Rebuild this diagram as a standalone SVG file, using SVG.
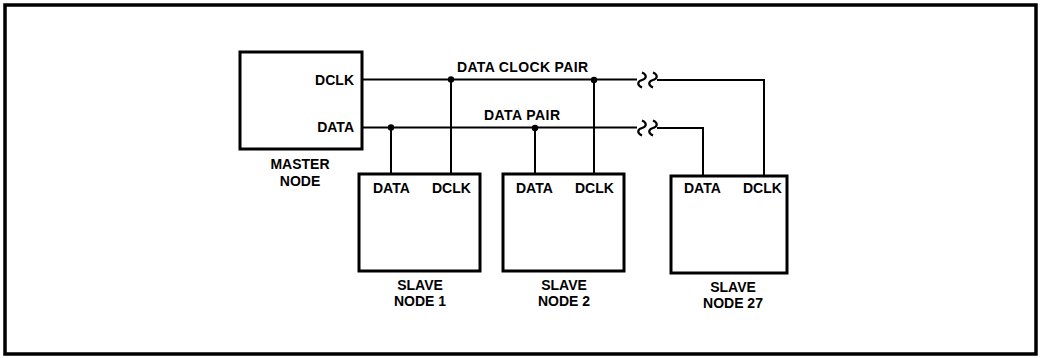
<svg xmlns="http://www.w3.org/2000/svg" width="1040" height="358" viewBox="0 0 1040 358">
<style>
.box{fill:#fff;stroke:#000;stroke-width:3}
.w{fill:none;stroke:#000;stroke-width:2}
.brk{fill:none;stroke:#000;stroke-width:2.2}
.dot{fill:#000}
text{font-family:"Liberation Sans",Arial,sans-serif;font-weight:bold;font-size:14px;fill:#000}
.m{text-anchor:middle}
.e{text-anchor:end}
</style>
<rect x="0" y="0" width="1040" height="358" fill="#fff"/>
<rect x="5" y="5" width="1031" height="349" fill="none" stroke="#000" stroke-width="3.5"/>
<g id="connectors">
<path class="w" d="M362,79.5 H637 M657,80 H764 V176"/>
<path class="w" d="M362,127.5 H637 M657,128 H703 V176"/>
<path class="w" d="M391,127.5 V174 M451,79.5 V174 M535,128 V174 M594,80 V174"/>
<path class="brk" d="M642,72.5 c5,2 5,6 0,7.5 c-5,1.5 -5,5.5 0,7.5 M653,72.5 c5,2 5,6 0,7.5 c-5,1.5 -5,5.5 0,7.5"/>
<path class="brk" d="M642,120.5 c5,2 5,6 0,7.5 c-5,1.5 -5,5.5 0,7.5 M653,120.5 c5,2 5,6 0,7.5 c-5,1.5 -5,5.5 0,7.5"/>
<circle class="dot" cx="391" cy="127.5" r="3.2"/>
<circle class="dot" cx="451" cy="79.5" r="3.2"/>
<circle class="dot" cx="535" cy="128" r="3.2"/>
<circle class="dot" cx="594" cy="80" r="3.2"/>
<text x="457" y="72" textLength="131">DATA CLOCK PAIR</text>
<text x="484" y="120" textLength="76">DATA PAIR</text>
</g>
<g id="master">
<rect class="box" x="240" y="52" width="122" height="97"/>
<text class="e" x="354" y="85">DCLK</text>
<text class="e" x="354" y="132">DATA</text>
<text class="m" x="300" y="169">MASTER</text>
<text class="m" x="300" y="186">NODE</text>
</g>
<g id="slave1">
<rect class="box" x="359" y="174" width="121" height="97"/>
<text x="373" y="193">DATA</text>
<text x="432" y="193">DCLK</text>
<text class="m" x="420" y="290">SLAVE</text>
<text class="m" x="420" y="306">NODE 1</text>
</g>
<g id="slave2">
<rect class="box" x="503" y="174" width="121" height="97"/>
<text x="516" y="193">DATA</text>
<text x="575" y="193">DCLK</text>
<text class="m" x="564" y="290">SLAVE</text>
<text class="m" x="564" y="306">NODE 2</text>
</g>
<g id="slave27">
<rect class="box" x="671" y="176" width="116" height="97"/>
<text x="684" y="193">DATA</text>
<text x="743" y="193">DCLK</text>
<text class="m" x="733" y="292">SLAVE</text>
<text class="m" x="733" y="308">NODE 27</text>
</g>
</svg>
